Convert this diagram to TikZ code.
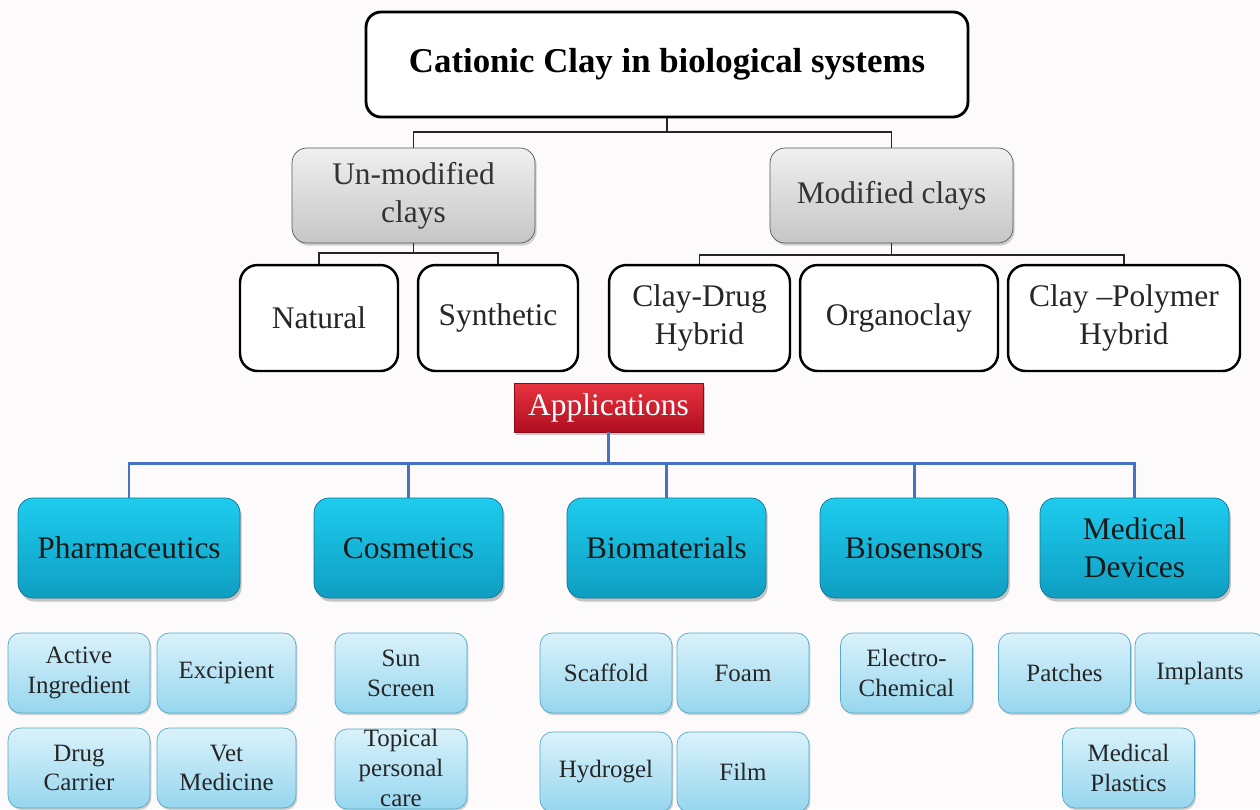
\documentclass[tikz,border=0pt]{standalone}
\usepackage{fontspec}
\setmainfont{Liberation Serif}
\usetikzlibrary{positioning,shadows}
\definecolor{paper}{RGB}{252,250,250}
\definecolor{wire}{RGB}{68,114,196}
\definecolor{apptop}{RGB}{232,52,64}
\definecolor{appbot}{RGB}{176,14,32}
\definecolor{appedge}{RGB}{140,10,25}
\definecolor{cattop}{RGB}{30,204,238}
\definecolor{catbot}{RGB}{14,158,194}
\definecolor{catedge}{RGB}{20,115,145}
\definecolor{leaftop}{RGB}{218,242,251}
\definecolor{leafbot}{RGB}{150,214,238}
\definecolor{leafedge}{RGB}{85,170,200}

\tikzset{
    box/.style={align=center,inner sep=2pt},
    headbox/.style={box,draw,line width=1.6pt,rounded corners=8.5pt,fill=white,
        font=\bfseries\fontsize{19.8}{24}\selectfont,minimum width=12.04cm,minimum height=2.1cm},
    greybox/.style={box,draw=gray!70!black,rounded corners=8.5pt,top color=gray!12,bottom color=gray!45,
        drop shadow={shadow xshift=1pt,shadow yshift=-1.5pt,opacity=.35},text=black!80,
        font=\fontsize{17.9}{21.5}\selectfont,minimum width=4.86cm,minimum height=1.9cm},
    plainbox/.style={box,draw,line width=1.4pt,rounded corners=10pt,fill=white,text=black!85,
        font=\fontsize{17.9}{21.5}\selectfont,minimum height=2.12cm},
    appbox/.style={box,draw=appedge,top color=apptop,bottom color=appbot,
        drop shadow={shadow xshift=1pt,shadow yshift=-1.5pt,opacity=.4},text=white,
        font=\fontsize{17.9}{21.5}\selectfont,minimum width=3.78cm,minimum height=0.98cm},
    catbox/.style={box,draw=catedge,rounded corners=8.5pt,top color=cattop,bottom color=catbot,
        drop shadow={shadow xshift=1pt,shadow yshift=-2pt,opacity=.45},text=black!90,
        font=\fontsize{17.9}{21.5}\selectfont,minimum height=2cm},
    leafbox/.style={box,draw=leafedge,rounded corners=7pt,top color=leaftop,bottom color=leafbot,
        drop shadow={shadow xshift=.8pt,shadow yshift=-1.2pt,opacity=.35},text=black!85,
        font=\fontsize{14.2}{17}\selectfont,minimum width=2.64cm,minimum height=1.6cm},
    blackline/.style={line width=1.1pt,black!85},
    blueline/.style={line width=1.7pt,wire},
}

\begin{document}
\begin{tikzpicture}[x=0.02cm,y=-0.02cm]
    \fill[paper] (0,0) rectangle (1260,809);
    \useasboundingbox (0,0) rectangle (1260,809);
    \clip (0,0) rectangle (1260,809);

    \node[headbox] (t) at (667,64.5) {Cationic Clay in biological systems};
    \node[greybox] (u) at (413.5,195.5) {Un-modified\\clays};
    \node[greybox] (m) at (891.5,195.5) {Modified clays};

    \node[plainbox,minimum width=3.16cm] (n1) at (319,318) {Natural};
    \node[plainbox,minimum width=3.2cm] (n2) at (498,318) {Synthetic};
    \node[plainbox,minimum width=3.62cm] (n3) at (699.5,318) {Clay-Drug\\Hybrid};
    \node[plainbox,minimum width=3.96cm] (n4) at (899,318) {Organoclay};
    \node[plainbox,minimum width=4.64cm] (n5) at (1124,318) {Clay --Polymer\\Hybrid};

    \node[appbox] (a) at (608.5,407.5) {Applications};

    \node[catbox,minimum width=4.44cm] (c1) at (129,548) {Pharmaceutics};
    \node[catbox,minimum width=3.78cm] (c2) at (408.5,548) {Cosmetics};
    \node[catbox,minimum width=3.98cm] (c3) at (666.5,548) {Biomaterials};
    \node[catbox,minimum width=3.76cm] (c4) at (914,548) {Biosensors};
    \node[catbox,minimum width=3.78cm] (c5) at (1134.5,548) {Medical\\Devices};

    \node[leafbox,minimum width=2.84cm] (l1) at (79,673) {Active\\Ingredient};
    \node[leafbox,minimum width=2.78cm] (l2) at (226.5,673) {Excipient};
    \node[leafbox] (l3) at (401,673) {Sun\\Screen};
    \node[leafbox] (l4) at (606,673) {Scaffold};
    \node[leafbox] (l5) at (743,673) {Foam};
    \node[leafbox] (l6) at (906.5,673) {Electro-\\Chemical};
    \node[leafbox] (l7) at (1064.5,673) {Patches};
    \node[leafbox,minimum width=2.6cm] (l8) at (1200,673) {Implants};

    \node[leafbox,minimum width=2.84cm] (l9) at (79,768) {Drug\\Carrier};
    \node[leafbox,minimum width=2.78cm] (l10) at (226.5,768) {Vet\\Medicine};
    \node[leafbox] (l11) at (401,769) {\raisebox{-9pt}{\smash{\begin{tabular}{@{}c@{}}Topical\\personal\\care\end{tabular}}}};
    \node[leafbox] (l12) at (606,772) {Hydrogel};
    \node[leafbox] (l13) at (743,772) {Film};
    \node[leafbox] (l14) at (1128.5,768) {Medical\\Plastics};

    \coordinate (tj) at (667,132);
    \coordinate (uj) at (413.5,253);
    \coordinate (mj) at (891.5,255);
    \coordinate (aj) at (608.5,463);

    \draw[blackline] (t) -- (tj);
    \draw[blackline] (u) |- (tj) -| (m);
    \draw[blackline] (u) -- (uj);
    \draw[blackline] (n1) |- (uj) -| (n2);
    \draw[blackline] (m) -- (mj);
    \draw[blackline] (n3) |- (mj) -| (n5);

    \draw[blueline] (a) -- (aj);
    \draw[blueline] (c1) |- (aj) -| (c5);
    \draw[blueline] (c2) -- (c2 |- aj);
    \draw[blueline] (c3) -- (c3 |- aj);
    \draw[blueline] (c4) -- (c4 |- aj);
\end{tikzpicture}
\end{document}
